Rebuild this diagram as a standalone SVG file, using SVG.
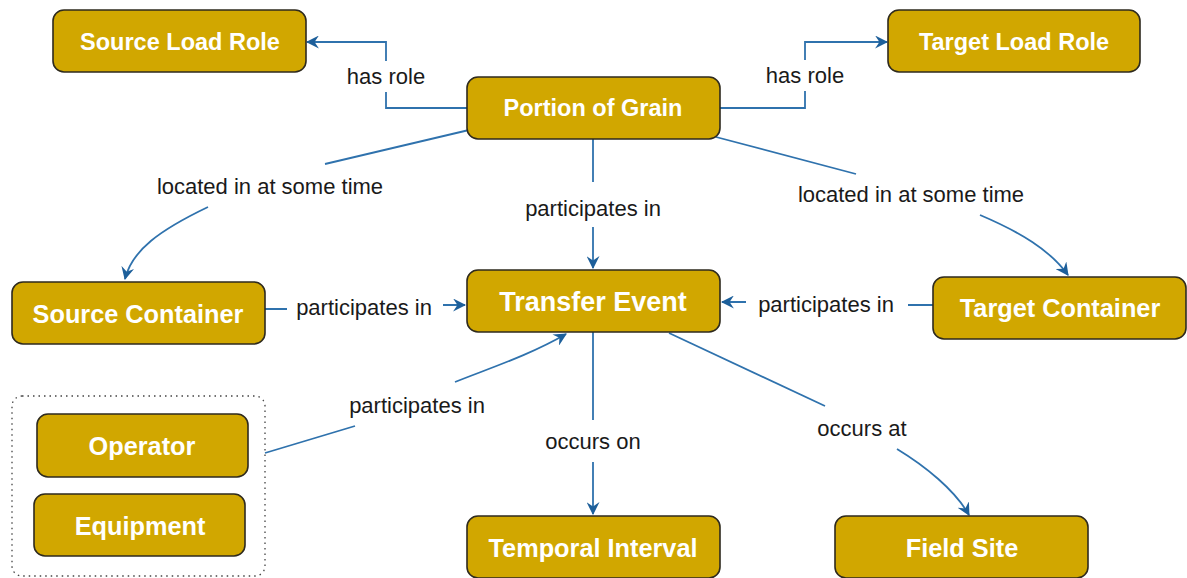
<svg xmlns="http://www.w3.org/2000/svg" width="1187" height="578" viewBox="0 0 1187 578">
<defs>
<style>
.node rect{fill:#D1A700;stroke:#2e2a1e;stroke-width:1.6}
.node text{fill:#fff;font-family:"Liberation Sans",Arial,sans-serif;font-weight:bold;font-size:23.5px;text-anchor:middle;dominant-baseline:central}
.node text.m{font-size:25.3px}
.edge{fill:none;stroke:#2f72ad;stroke-width:1.8}
.lbl{fill:#1a1a1a;font-family:"Liberation Sans",Arial,sans-serif;font-size:22px;text-anchor:middle;dominant-baseline:central}
</style>
<marker id="arr" viewBox="0 0 12 12" refX="11" refY="6" markerWidth="13" markerHeight="13" markerUnits="userSpaceOnUse" orient="auto">
<path d="M0,0 L12,6 L0,12 L4,6 Z" fill="#1d5f9a"/>
</marker>
</defs>
<rect width="1187" height="578" fill="#fff"/>
<g id="group-box">
<rect x="12" y="396" width="253" height="180" rx="10" fill="none" stroke="#444" stroke-width="1.3" stroke-dasharray="1.5,4"/>
</g>
<g id="connectors">
<path class="edge" d="M467,108 H386 V92 M386,61 V42 H307" marker-end="url(#arr)"/>
<text class="lbl" x="386" y="76">has role</text>
<path class="edge" d="M720,108 H805 V91 M805,60 V42 H887" marker-end="url(#arr)"/>
<text class="lbl" x="805" y="75">has role</text>
<path class="edge" d="M469,130 L325,164"/>
<path class="edge" d="M208,207 C160,230 132,250 125,279" marker-end="url(#arr)"/>
<text class="lbl" x="270" y="186">located in at some time</text>
<path class="edge" d="M716,137 L856,174"/>
<path class="edge" d="M980,215 C1020,232 1050,250 1068,275" marker-end="url(#arr)"/>
<text class="lbl" x="911" y="194">located in at some time</text>
<path class="edge" d="M593,139 V182 M593,227 V268" marker-end="url(#arr)"/>
<text class="lbl" x="593" y="208">participates in</text>
<path class="edge" d="M265,309 H287 M443,305 H465" marker-end="url(#arr)"/>
<text class="lbl" x="364" y="307">participates in</text>
<path class="edge" d="M933,305 H908 M746,302 H722" marker-end="url(#arr)"/>
<text class="lbl" x="826" y="304">participates in</text>
<path class="edge" d="M265,453 L355,426"/>
<path class="edge" d="M455,382 C490,368 530,355 566,334" marker-end="url(#arr)"/>
<text class="lbl" x="417" y="405">participates in</text>
<path class="edge" d="M593,332 V420 M593,462 V514" marker-end="url(#arr)"/>
<text class="lbl" x="593" y="441">occurs on</text>
<path class="edge" d="M669,333 L825,406"/>
<path class="edge" d="M897,449 C925,466 955,490 969,515" marker-end="url(#arr)"/>
<text class="lbl" x="862" y="428">occurs at</text>
</g>
<g id="source-load-role" class="node"><rect x="53" y="10" width="253" height="62" rx="11"/><text x="180" y="42">Source Load Role</text></g>
<g id="target-load-role" class="node"><rect x="888" y="10" width="252" height="62" rx="11"/><text x="1014" y="42">Target Load Role</text></g>
<g id="portion-of-grain" class="node"><rect x="467" y="77" width="253" height="62" rx="11"/><text x="593" y="108">Portion of Grain</text></g>
<g id="source-container" class="node"><rect x="12" y="282" width="253" height="62" rx="11"/><text class="m" x="138" y="314">Source Container</text></g>
<g id="transfer-event" class="node"><rect x="467" y="270" width="253" height="62" rx="11"/><text x="593" y="302" style="font-size:27px">Transfer Event</text></g>
<g id="target-container" class="node"><rect x="933" y="277" width="253" height="62" rx="11"/><text class="m" x="1060" y="308">Target Container</text></g>
<g id="operator" class="node"><rect x="37" y="414" width="211" height="63" rx="11"/><text class="m" x="142" y="446">Operator</text></g>
<g id="equipment" class="node"><rect x="34" y="494" width="211" height="62" rx="11"/><text class="m" x="140" y="526">Equipment</text></g>
<g id="temporal-interval" class="node"><rect x="467" y="516" width="253" height="62" rx="11"/><text class="m" x="593" y="548">Temporal Interval</text></g>
<g id="field-site" class="node"><rect x="835" y="516" width="253" height="62" rx="11"/><text class="m" x="962" y="548">Field Site</text></g>
</svg>
